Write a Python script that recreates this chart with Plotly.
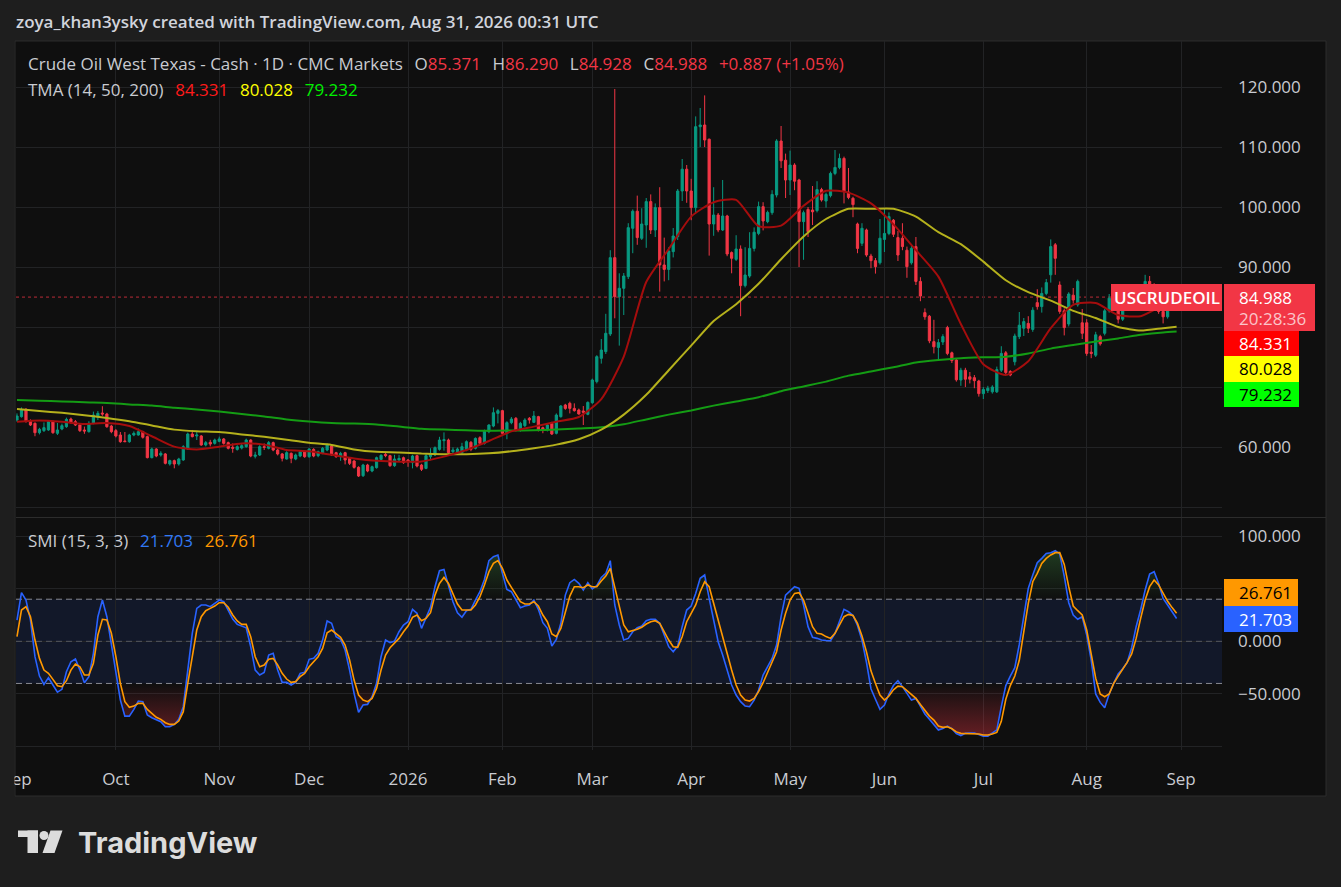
import numpy as np
import pandas as pd
import plotly.graph_objects as go

# daily bars shown, Sep 2025 - Aug 2026 (no bar on Christmas / New Year)
no_bar_days = ['2025-12-25', '2026-01-01']
days = pd.bdate_range('2025-09-01', '2026-08-31')
days = days[~days.isin(pd.to_datetime(no_bar_days))]

opens = [64.50, 65.06, 66.28, 64.39, 63.95, 62.39, 62.73, 62.84, 64.22, 62.28,
         63.00, 63.39, 64.67, 64.22, 63.67, 62.84, 62.56, 63.95, 64.95, 65.67,
         65.50, 63.50, 62.73, 62.00, 61.00, 60.89, 62.00, 62.00, 62.56, 61.73,
         58.23, 59.67, 58.67, 58.84, 57.17, 57.73, 57.17, 57.84, 59.67, 62.17,
         61.84, 61.84, 60.34, 60.78, 60.61, 60.95, 61.34, 60.73, 59.95, 59.60,
         59.84, 60.06, 61.17, 58.45, 58.67, 60.06, 59.78, 60.73, 59.50, 58.84,
         58.00, 58.95, 58.00, 58.50, 59.23, 58.39, 59.60, 58.56, 58.94, 59.50,
         60.17, 59.06, 58.39, 59.06, 58.11, 57.67, 56.61, 55.22, 57.00, 56.00,
         56.56, 57.94, 58.78, 58.56, 56.89, 57.83, 58.22, 57.83, 57.39, 58.56,
         57.00, 56.44, 58.39, 58.67, 59.61, 61.06, 61.17, 59.22, 59.06, 59.06,
         59.50, 60.78, 59.78, 61.56, 60.61, 62.56, 63.50, 65.61, 66.06, 62.28,
         64.06, 64.78, 62.94, 63.56, 64.78, 64.11, 65.06, 63.22, 62.83, 63.94,
         62.28, 65.06, 67.00, 67.28, 66.44, 66.17, 66.00, 65.45, 67.39, 70.90,
         74.78, 75.90, 78.83, 91.56, 85.06, 86.45, 88.40, 96.45, 99.30, 94.78,
         97.00, 100.90, 96.17, 99.90, 90.34, 89.60, 92.56, 95.06, 102.67, 106.30,
         102.67, 99.90, 113.39, 113.67, 111.30, 97.17, 98.67, 96.17, 98.50, 92.40,
         91.28, 93.00, 86.90, 88.50, 93.10, 95.60, 100.06, 97.56, 99.06, 102.00,
         111.00, 107.80, 104.50, 107.00, 104.50, 97.56, 99.60, 99.50, 99.40, 102.90,
         101.00, 101.90, 105.60, 106.60, 108.10, 102.50, 101.45, 97.17, 93.95, 96.17,
         91.83, 91.06, 90.70, 94.60, 95.60, 97.80, 94.90, 94.80, 92.80, 90.70,
         93.40, 87.60, 82.40, 81.80, 77.56, 76.60, 77.50, 79.90, 75.70, 74.50,
         71.17, 72.80, 71.70, 71.56, 71.00, 68.90, 69.40, 69.20, 69.20, 72.80,
         75.70, 72.60, 74.20, 78.40, 79.80, 80.60, 79.60, 84.06, 83.40, 85.60,
         88.70, 93.70, 87.00, 82.70, 80.50, 85.30, 83.70, 80.70, 80.70, 75.80,
         75.30, 78.40, 78.95, 82.70, 84.80, 83.60, 81.30, 83.20, 84.60, 85.40,
         84.50, 86.20, 87.60, 86.60, 85.00, 82.60, 81.70, 83.10, 85.371]
highs = [65.60, 66.60, 66.50, 64.60, 64.10, 63.20, 64.10, 64.50, 64.40, 64.00,
         63.90, 64.90, 64.90, 64.50, 63.80, 63.40, 64.30, 65.90, 66.00, 66.80,
         65.70, 63.70, 63.00, 62.50, 62.50, 62.20, 62.60, 63.10, 62.70, 61.90,
         59.90, 59.80, 59.30, 59.00, 57.90, 57.90, 58.20, 60.30, 62.40, 62.84,
         62.56, 62.00, 61.00, 61.20, 61.40, 61.73, 61.50, 60.90, 60.60, 60.30,
         60.50, 61.40, 61.30, 59.20, 60.30, 60.60, 61.00, 60.90, 59.70, 59.00,
         59.30, 59.10, 58.90, 59.40, 59.40, 59.80, 59.80, 59.40, 60.00, 60.60,
         60.50, 59.20, 59.20, 59.20, 58.30, 57.80, 56.80, 57.20, 57.20, 56.90,
         58.40, 58.80, 59.00, 58.70, 58.70, 58.70, 58.40, 58.00, 58.70, 58.70,
         57.20, 58.80, 59.80, 60.10, 61.70, 62.44, 61.40, 59.94, 59.90, 60.70,
         61.10, 61.00, 61.60, 61.80, 62.90, 63.80, 66.60, 66.33, 66.20, 64.30,
         65.00, 65.00, 64.20, 64.80, 65.00, 66.00, 65.20, 63.40, 63.90, 64.20,
         65.60, 67.00, 67.20, 67.56, 67.28, 66.40, 66.83, 67.60, 71.40, 75.30,
         78.00, 82.20, 92.80, 119.67, 88.95, 89.00, 97.30, 99.60, 101.90, 99.80,
         101.50, 102.10, 100.60, 103.30, 94.90, 93.30, 96.50, 103.00, 108.00, 107.00,
         104.70, 115.10, 116.50, 118.60, 111.40, 103.30, 99.00, 104.50, 98.70, 92.60,
         95.30, 93.60, 93.30, 95.80, 96.60, 100.90, 100.80, 99.40, 102.80, 111.30,
         113.50, 108.90, 109.40, 107.30, 104.70, 99.40, 100.00, 103.50, 104.30, 103.20,
         102.40, 105.90, 109.50, 108.90, 108.40, 106.50, 101.70, 97.40, 97.30, 96.40,
         92.20, 91.50, 98.00, 99.70, 99.10, 98.00, 96.00, 97.30, 93.40, 93.50,
         95.00, 88.30, 83.10, 82.00, 81.20, 78.00, 78.80, 80.20, 75.90, 74.80,
         73.20, 73.20, 72.50, 72.00, 71.20, 70.00, 70.20, 70.30, 73.40, 76.80,
         76.00, 72.80, 78.90, 82.50, 81.50, 81.80, 83.30, 86.30, 86.60, 88.00,
         94.60, 94.00, 87.60, 83.10, 85.80, 86.50, 87.90, 83.00, 81.30, 77.00,
         79.20, 78.70, 83.00, 85.50, 85.60, 84.00, 83.60, 85.20, 86.00, 86.20,
         86.80, 88.70, 88.50, 87.30, 85.30, 83.00, 83.60, 84.60, 86.290]
lows = [64.20, 64.90, 64.10, 63.50, 61.80, 62.10, 62.50, 62.70, 62.20, 62.00,
        62.80, 63.20, 63.90, 63.50, 62.50, 62.20, 62.40, 63.80, 64.50, 65.20,
        63.20, 62.30, 61.60, 60.70, 60.80, 60.70, 61.80, 61.90, 61.40, 58.10,
        58.10, 58.30, 58.40, 57.10, 56.90, 56.45, 56.90, 57.70, 59.50, 61.60,
        61.17, 60.20, 60.10, 60.10, 60.40, 60.80, 60.40, 59.60, 59.05, 59.40,
        59.60, 59.90, 58.30, 58.10, 58.50, 59.50, 59.60, 59.30, 58.60, 57.60,
        57.90, 57.30, 57.80, 58.30, 58.20, 58.20, 58.30, 58.30, 58.80, 59.30,
        58.50, 58.20, 57.70, 57.10, 57.00, 56.40, 55.00, 55.00, 55.80, 55.80,
        56.40, 57.80, 58.30, 56.70, 56.70, 57.55, 57.20, 56.70, 56.44, 56.60,
        56.00, 56.30, 57.80, 58.50, 59.40, 59.40, 58.90, 58.94, 58.90, 58.90,
        59.30, 59.30, 59.60, 60.40, 60.40, 62.30, 63.30, 63.94, 62.10, 61.30,
        63.80, 62.60, 62.56, 63.30, 63.90, 64.00, 62.60, 62.30, 62.60, 62.00,
        62.10, 64.90, 66.20, 65.60, 65.90, 65.40, 63.67, 65.30, 67.20, 70.60,
        73.90, 75.50, 78.50, 81.45, 76.90, 82.00, 88.00, 92.30, 93.70, 94.50,
        93.20, 95.50, 95.00, 85.90, 87.60, 87.80, 91.60, 94.50, 101.00, 100.70,
        97.80, 99.00, 110.00, 110.00, 91.90, 95.20, 95.80, 96.00, 91.80, 88.95,
        91.00, 81.80, 86.60, 88.20, 92.60, 95.30, 96.10, 97.30, 98.70, 101.60,
        106.50, 101.50, 102.00, 102.80, 90.00, 91.20, 95.00, 97.00, 99.10, 100.90,
        99.90, 101.60, 105.30, 106.30, 100.60, 101.30, 98.30, 92.30, 93.50, 91.70,
        89.80, 88.90, 90.40, 92.50, 95.30, 95.00, 91.00, 92.80, 88.20, 90.40,
        87.00, 84.30, 81.20, 77.30, 75.60, 74.60, 77.00, 75.30, 74.00, 70.90,
        70.20, 70.00, 70.60, 69.80, 68.40, 68.00, 69.00, 68.90, 69.00, 72.50,
        72.00, 71.80, 73.60, 78.00, 78.50, 79.00, 79.20, 82.90, 82.40, 85.30,
        87.40, 88.70, 82.20, 78.60, 80.10, 83.90, 83.40, 78.00, 75.20, 74.80,
        75.00, 76.90, 78.60, 82.40, 83.00, 80.60, 81.00, 82.90, 84.00, 84.00,
        84.20, 85.80, 86.00, 84.50, 82.20, 80.60, 81.40, 82.80, 84.928]
closes = [65.17, 66.17, 64.22, 63.67, 62.39, 62.95, 63.23, 64.22, 62.39, 62.84,
          63.56, 64.61, 64.06, 63.67, 62.73, 62.67, 63.95, 65.33, 65.61, 65.50,
          63.39, 62.56, 61.84, 60.89, 60.90, 62.00, 62.28, 62.56, 61.62, 58.23,
          59.67, 58.50, 58.95, 57.28, 57.73, 57.17, 58.00, 60.06, 62.17, 61.73,
          62.00, 60.34, 60.73, 60.50, 61.17, 61.34, 60.61, 59.78, 59.78, 60.06,
          60.23, 61.17, 58.50, 58.67, 60.06, 59.95, 60.73, 59.50, 58.84, 58.12,
          59.06, 58.12, 58.67, 59.22, 58.39, 59.67, 58.50, 59.22, 59.78, 60.33,
          58.67, 58.39, 58.94, 57.83, 57.28, 56.61, 55.17, 57.00, 56.00, 56.72,
          58.22, 58.61, 58.56, 56.89, 58.00, 58.11, 57.39, 57.56, 58.50, 56.83,
          56.28, 58.56, 58.83, 59.89, 61.17, 61.22, 59.06, 59.50, 59.67, 60.06,
          60.89, 59.61, 61.44, 60.61, 62.72, 63.67, 65.72, 66.06, 62.28, 64.06,
          64.67, 62.83, 63.94, 64.50, 64.50, 65.17, 62.83, 62.83, 63.67, 62.17,
          65.33, 66.83, 66.44, 66.44, 66.06, 65.50, 65.80, 67.44, 71.17, 75.06,
          76.17, 78.95, 91.56, 85.06, 86.45, 88.50, 96.56, 99.30, 94.90, 97.17,
          100.90, 96.17, 99.90, 90.34, 89.60, 92.67, 95.17, 102.67, 106.30, 102.67,
          99.90, 113.39, 113.67, 111.17, 97.17, 98.67, 96.17, 98.50, 92.17, 91.45,
          93.00, 86.90, 88.67, 93.10, 95.80, 100.06, 97.67, 99.10, 102.10, 111.00,
          107.70, 104.50, 107.00, 104.30, 97.56, 99.06, 95.90, 99.20, 102.90, 101.17,
          102.10, 105.60, 106.60, 108.10, 102.67, 101.60, 100.40, 93.10, 96.45, 92.00,
          91.06, 90.06, 94.80, 95.60, 98.40, 95.45, 92.00, 93.40, 90.06, 93.10,
          87.60, 85.17, 81.70, 77.70, 76.70, 77.40, 78.40, 75.60, 74.40, 71.20,
          72.80, 71.30, 71.30, 71.06, 68.90, 69.60, 69.80, 70.00, 72.90, 75.60,
          72.40, 72.00, 78.50, 80.30, 80.90, 79.80, 82.80, 83.40, 85.60, 87.40,
          93.40, 91.45, 82.60, 79.90, 85.50, 84.50, 87.60, 78.95, 75.60, 75.60,
          78.70, 77.20, 82.70, 84.80, 83.60, 81.30, 83.20, 84.60, 85.40, 84.50,
          86.20, 87.60, 86.60, 85.00, 82.60, 81.70, 83.10, 84.101, 84.988]

tma_fast = [64.2, 64.4, 64.2, 63.85, 64.0, 63.5, 61.8, 60.06, 59.6, 60.06,
            60.6, 60.4, 59.5, 59.3, 58.7, 58.1, 57.7, 57.56, 57.6, 58.4,
            59.5, 61.0, 62.6, 63.4, 64.2, 65.0, 68.0, 75.06, 87.5, 93.0,
            98.4, 100.8, 101.2, 96.8, 96.9, 100.2, 102.7, 102.4, 100.6, 97.1,
            92.8, 88.4, 80.5, 73.8, 72.0, 74.3, 79.8, 83.7, 84.0, 82.0,
            81.8, 83.6, 84.331]
tma_mid = [66.33, 66.0, 65.7, 65.3, 64.85, 64.3, 63.6, 62.9, 62.63, 62.5,
           62.1, 61.7, 61.2, 60.7, 60.35, 59.6, 59.2, 59.1, 58.9, 58.8,
           58.8, 58.95, 59.3, 59.8, 60.4, 61.3, 62.9, 65.4, 68.7, 72.8,
           76.9, 81.0, 83.8, 87.2, 91.3, 95.1, 98.0, 99.7, 99.7, 99.7,
           98.4, 95.8, 93.8, 90.9, 87.8, 85.8, 84.4, 82.7, 81.5, 80.0,
           79.4, 79.8, 80.028]
tma_slow = [67.83, 67.7, 67.6, 67.45, 67.35, 67.1, 66.9, 66.55, 66.25, 65.9,
            65.5, 65.1, 64.6, 64.25, 64.0, 63.9, 63.75, 63.4, 63.05, 62.9,
            62.8, 62.7, 62.75, 62.8, 62.9, 63.1, 63.3, 63.8, 64.6, 65.4,
            66.1, 66.9, 67.6, 68.3, 69.3, 70.1, 70.9, 71.9, 72.6, 73.3,
            74.1, 74.5, 74.8, 74.95, 75.06, 75.6, 76.4, 77.0, 77.6, 78.1,
            78.7, 79.1, 79.232]

# SMI (15, 3, 3)
smi = [20.2, 46.2, 39.2, 20.2, -14.6, -33.0, -40.9, -34.5, -41.5, -48.2,
       -45.6, -28.9, -19.4, -16.8, -27.3, -39.3, -33.6, -11.4, 23.4, 39.2,
       23.4, -3.5, -30.4, -55.8, -71.0, -71.0, -64.6, -56.7, -57.3, -70.0,
       -72.5, -74.8, -76.3, -81.1, -81.1, -78.9, -74.1, -62.1, -27.3, 7.6,
       31.3, 34.5, 34.5, 32.9, 36.0, 39.2, 37.6, 29.7, 21.2, 16.1,
       14.5, 12.9, -5.1, -27.3, -32.0, -29.5, -13.0, -11.4, -27.3, -39.0,
       -39.0, -41.5, -39.0, -30.4, -29.5, -17.1, -16.2, -11.4, 1.2, 19.3,
       17.1, 4.4, 1.9, -8.3, -27.3, -49.4, -67.5, -60.5, -59.9, -52.6,
       -39.9, -14.6, 1.2, -1.3, 0.3, 9.1, 15.5, 18.6, 30.4, 26.6,
       12.3, 21.8, 32.3, 51.9, 67.1, 68.3, 53.5, 37.6, 27.2, 22.8,
       29.1, 30.4, 39.2, 47.1, 58.8, 76.6, 80.4, 82.0, 64.5, 49.3,
       47.1, 39.2, 31.9, 33.5, 34.5, 39.2, 30.4, 17.7, 12.3, -4.5,
       1.9, 17.1, 43.9, 55.7, 58.8, 55.0, 48.7, 55.7, 49.7, 52.8,
       60.7, 64.5, 76.6, 34.5, 15.5, 1.2, 2.8, 9.1, 12.9, 14.5,
       19.6, 20.9, 20.9, 17.1, 6.0, -5.1, -9.9, -4.5, 13.9, 29.7,
       33.5, 45.5, 59.8, 63.0, 40.8, 20.2, -0.4, -13.0, -27.3, -41.5,
       -51.0, -57.3, -61.5, -62.1, -55.8, -46.3, -32.0, -24.1, -16.2, -3.5,
       23.4, 43.9, 48.1, 51.9, 50.3, 34.5, 13.9, 3.8, 2.8, 1.2,
       0.8, 0.6, 7.6, 19.0, 30.4, 28.1, 24.5, 15.0, 1.0, -20.0,
       -45.0, -55.0, -64.6, -60.5, -50.0, -42.0, -37.4, -43.0, -50.0, -55.8,
       -54.2, -62.0, -69.0, -74.0, -79.5, -84.3, -82.7, -80.5, -83.0, -87.5,
       -89.5, -87.4, -87.0, -87.0, -88.5, -90.0, -90.0, -87.4, -84.0, -62.0,
       -42.0, -33.0, -25.0, -3.0, 22.0, 50.3, 63.0, 74.7, 78.8, 83.5,
       84.2, 86.1, 83.0, 62.0, 36.7, 25.0, 20.9, 23.4, 6.0, -17.8,
       -50.0, -58.0, -63.0, -50.0, -40.0, -31.0, -26.0, -20.0, -6.0, 13.9,
       30.0, 48.7, 63.9, 66.1, 55.0, 40.8, 34.5, 28.1, 21.703]
smi_signal = [4.4, 29.7, 32.9, 23.4, 1.2, -16.2, -27.3, -30.4, -36.1, -42.2,
              -43.1, -37.4, -27.3, -21.6, -24.1, -32.0, -32.0, -20.9, 6.0, 20.9,
              20.2, 7.6, -14.6, -39.9, -57.3, -62.7, -61.5, -58.9, -58.9, -64.6,
              -68.4, -72.2, -74.1, -77.3, -78.9, -78.9, -75.7, -66.8, -39.9, -13.0,
              10.7, 23.4, 29.1, 31.3, 33.5, 36.7, 36.7, 32.3, 25.0, 19.3,
              16.1, 16.1, 4.4, -14.6, -24.1, -22.5, -17.1, -16.2, -22.5, -30.4,
              -35.8, -39.0, -38.3, -33.6, -30.4, -24.1, -19.4, -14.6, -6.7, 8.2,
              10.7, 6.9, 3.8, -3.5, -17.8, -36.8, -51.0, -55.8, -57.3, -54.2,
              -44.7, -27.3, -13.0, -6.1, -1.9, 2.8, 9.1, 14.5, 22.8, 25.0,
              19.6, 21.8, 27.2, 43.9, 55.0, 60.7, 55.0, 44.9, 35.4, 29.7,
              29.7, 29.7, 34.5, 42.4, 53.5, 66.1, 74.0, 76.6, 69.3, 58.2,
              51.2, 43.9, 37.6, 35.4, 35.4, 37.6, 33.5, 25.0, 18.6, 6.9,
              4.4, 12.3, 28.1, 43.0, 51.9, 51.9, 50.9, 53.5, 51.9, 51.9,
              57.3, 62.0, 69.3, 50.3, 31.3, 15.5, 9.1, 10.1, 11.4, 13.3,
              16.4, 18.6, 19.6, 17.1, 9.1, 1.2, -5.1, -5.7, 4.4, 18.6,
              26.6, 34.5, 47.1, 56.6, 51.9, 36.0, 18.6, 2.8, -11.4, -27.3,
              -41.5, -51.0, -55.8, -56.7, -54.2, -47.8, -39.3, -29.8, -20.9, -9.9,
              10.7, 26.6, 39.2, 45.5, 46.2, 39.2, 26.6, 13.9, 7.6, 6.9,
              4.5, 2.8, 7.6, 16.0, 23.4, 25.6, 24.5, 17.0, 5.0, -10.0,
              -28.0, -40.0, -51.0, -55.8, -52.0, -46.0, -42.5, -43.1, -47.0, -51.0,
              -54.2, -60.0, -65.0, -71.0, -74.8, -80.5, -81.7, -81.1, -83.0, -86.0,
              -87.4, -87.4, -87.4, -87.4, -88.0, -89.0, -89.0, -88.1, -86.5, -76.0,
              -55.0, -42.0, -33.0, -18.0, 8.0, 36.0, 56.6, 64.5, 74.0, 78.8,
              82.0, 84.2, 84.2, 73.0, 51.9, 33.5, 29.1, 25.0, 10.7, -11.4,
              -35.0, -50.0, -52.6, -50.0, -40.0, -33.0, -27.0, -20.0, -12.0, 2.8,
              21.8, 39.2, 51.9, 58.2, 53.5, 46.0, 38.0, 32.0, 26.761]

month_starts = ['2025-09-01', '2025-10-01', '2025-11-03', '2025-12-01', '2026-01-02',
                '2026-02-02', '2026-03-02', '2026-04-01', '2026-05-01', '2026-06-01',
                '2026-07-01', '2026-08-03', '2026-09-01']
month_labels = ['Sep', 'Oct', 'Nov', 'Dec', '2026', 'Feb', 'Mar', 'Apr', 'May', 'Jun',
                'Jul', 'Aug', 'Sep']

n = len(days)
assert len(opens) == len(highs) == len(lows) == len(closes) == n
assert len(smi) == len(smi_signal) == n

# bars are spaced evenly like on TradingView (one slot per trading day)
bar = np.arange(n)
ma_x = list(bar[::5]) + [bar[-1]]
assert len(tma_fast) == len(tma_mid) == len(tma_slow) == len(ma_x)
tick_pos = np.searchsorted(days, pd.to_datetime(month_starts))
x_range = [-0.22, 268.1]

# page geometry (pixels)
W, H = 1341, 887
ML, MR, MT, MB = 16, 119, 41, 137
PW, PH = W - ML - MR, H - MT - MB


def px(x):
    return (x - ML) / PW


def py(y):
    return (H - MB - y) / PH


FONT = 'Open Sans'
GRID = '#222325'
TXT = '#c9cbd1'
RED = '#f23645'
UP = '#089981'
BG = '#1e1e1e'

fig = go.Figure()

fig.add_trace(go.Candlestick(
    x=bar, open=opens, high=highs, low=lows, close=closes,
    increasing=dict(line=dict(color=UP, width=1), fillcolor=UP),
    decreasing=dict(line=dict(color=RED, width=1), fillcolor=RED),
    whiskerwidth=0, hoverinfo='skip', xaxis='x', yaxis='y'))

for vals, colr in [(tma_slow, '#149c14'), (tma_mid, '#b5b11c'), (tma_fast, '#a50d0d')]:
    fig.add_trace(go.Scatter(x=ma_x, y=vals, mode='lines', hoverinfo='skip',
                             line=dict(color=colr, width=2, shape='spline', smoothing=0.6),
                             xaxis='x', yaxis='y'))

# SMI: dashed levels, fills outside the +/-40 band, then the two lines
smi_arr = np.array(smi)
LVL = 'rgba(165,168,176,0.8)'
fig.add_trace(go.Scatter(x=x_range, y=[0, 0], mode='lines', hoverinfo='skip',
                         line=dict(color='rgba(120,123,134,0.6)', width=1, dash='6px,4px'),
                         xaxis='x2', yaxis='y2'))
fig.add_trace(go.Scatter(x=x_range, y=[40, 40], mode='lines', hoverinfo='skip',
                         line=dict(color=LVL, width=1, dash='6px,4px'), xaxis='x2', yaxis='y2'))
fig.add_trace(go.Scatter(x=bar, y=np.maximum(smi_arr, 40), mode='lines', line=dict(width=0),
                         fill='tonexty', hoverinfo='skip', xaxis='x2', yaxis='y2',
                         fillgradient=dict(type='vertical', start=40, stop=90,
                                           colorscale=[[0, 'rgba(76,175,80,0)'],
                                                       [1, 'rgba(76,175,80,0.3)']])))
fig.add_trace(go.Scatter(x=x_range, y=[-40, -40], mode='lines', hoverinfo='skip',
                         line=dict(color=LVL, width=1, dash='6px,4px'), xaxis='x2', yaxis='y2'))
fig.add_trace(go.Scatter(x=bar, y=np.minimum(smi_arr, -40), mode='lines', line=dict(width=0),
                         fill='tonexty', hoverinfo='skip', xaxis='x2', yaxis='y2',
                         fillgradient=dict(type='vertical', start=-90, stop=-40,
                                           colorscale=[[0, 'rgba(242,54,69,0.38)'],
                                                       [1, 'rgba(242,54,69,0)']])))
fig.add_trace(go.Scatter(x=bar, y=smi, mode='lines', line=dict(color='#2962ff', width=1.6),
                         hoverinfo='skip', xaxis='x2', yaxis='y2'))
fig.add_trace(go.Scatter(x=bar, y=smi_signal, mode='lines', line=dict(color='#ff9800', width=1.6),
                         hoverinfo='skip', xaxis='x2', yaxis='y2'))

AX = dict(family=FONT, size=17, color=TXT)

fig.update_layout(
    width=W, height=H, margin=dict(l=ML, r=MR, t=MT, b=MB, autoexpand=False),
    paper_bgcolor=BG, plot_bgcolor='rgba(0,0,0,0)', showlegend=False,
    font=dict(family=FONT, size=17, color=TXT),
    xaxis=dict(domain=[0, 1], anchor='y', range=x_range, rangeslider=dict(visible=False),
               tickvals=tick_pos, showticklabels=False, automargin=False,
               showgrid=True, gridcolor=GRID, zeroline=False),
    # 70 and 80 sit behind the price labels on the reference, so they stay blank
    yaxis=dict(domain=[0.3286, 1], anchor='x', side='right', range=[48.333, 127.667],
               tickvals=[50, 60, 70, 80, 90, 100, 110, 120],
               ticktext=['', '60.000', '', '', '90.000', '100.000', '110.000', '120.000'],
               gridcolor=GRID, zeroline=False, ticklabelstandoff=15, tickfont=AX,
               automargin=False),
    xaxis2=dict(domain=[0, 1], anchor='y2', matches='x', range=x_range,
                tickvals=tick_pos, ticktext=month_labels, showgrid=True, gridcolor=GRID,
                zeroline=False, ticklabelstandoff=17, tickfont=AX, automargin=False),
    yaxis2=dict(domain=[0, 0.3272], anchor='x2', side='right', range=[-103.2, 117.1],
                tickvals=[-100, -50, 0, 50, 100],
                ticktext=['', '\u221250.000', '0.000', '', '100.000'],
                gridcolor=GRID, zeroline=False, ticklabelstandoff=15, tickfont=AX,
                automargin=False),
)

shapes = [
    # chart box
    dict(type='rect', xref='paper', yref='paper', x0=px(15), x1=px(1326), y0=py(796), y1=py(41),
         fillcolor='#0f0f0f', line=dict(color='#2c2c2c', width=1), layer='below'),
    # SMI band
    dict(type='rect', xref='paper', yref='y2', x0=0, x1=1, y0=-40, y1=40,
         fillcolor='#121829', line=dict(width=0), layer='below'),
    # last price line
    dict(type='line', xref='paper', yref='y', x0=0, x1=px(1111), y0=closes[-1], y1=closes[-1],
         line=dict(color='rgba(242,54,69,0.75)', width=1, dash='dot'), layer='below'),
    # pane separator
    dict(type='line', xref='paper', yref='paper', x0=0, x1=px(1326), y0=py(517.5), y1=py(517.5),
         line=dict(color='#2c2c2c', width=1), layer='above'),
    # page margin left of the chart box (crops the first "Sep" like the reference)
    dict(type='rect', xref='paper', yref='paper', x0=px(0), x1=px(14.5), y0=py(800), y1=py(41),
         fillcolor=BG, line=dict(width=0), layer='above'),
]

# price-scale labels
boxes = [
    (1111, 1222, 284, 311, RED),
    (1224, 1315, 284, 331, RED),
    (1224, 1299, 331, 356, '#ff0000'),
    (1224, 1299, 356, 382, '#ffff00'),
    (1224, 1299, 382, 407, '#00ff00'),
    (1224, 1298, 579, 606, '#ff9800'),
    (1224, 1298, 606, 632, '#2962ff'),
]
for x0, x1, y0, y1, c in boxes:
    shapes.append(dict(type='rect', xref='paper', yref='paper', x0=px(x0), x1=px(x1),
                       y0=py(y1), y1=py(y0), fillcolor=c, line=dict(width=0), layer='above'))

# TradingView logo mark
LOGO = '#dcdcdc'
shapes += [
    dict(type='rect', xref='paper', yref='paper', x0=px(18), x1=px(38), y0=py(837), y1=py(830.5),
         fillcolor=LOGO, line=dict(width=0), layer='above'),
    dict(type='rect', xref='paper', yref='paper', x0=px(27.5), x1=px(38), y0=py(853), y1=py(830.5),
         fillcolor=LOGO, line=dict(width=0), layer='above'),
    dict(type='circle', xref='paper', yref='paper', x0=px(39.5), x1=px(48.5), y0=py(840), y1=py(831),
         fillcolor=LOGO, line=dict(width=0), layer='above'),
    dict(type='path', xref='paper', yref='paper', layer='above', fillcolor=LOGO, line=dict(width=0),
         path=f'M {px(50.5)},{py(830.5)} L {px(62.5)},{py(830.5)} L {px(54.5)},{py(853)} '
              f'L {px(42.5)},{py(853)} Z'),
]
fig.update_layout(shapes=shapes)


def note(x, y, text, size=17, color=TXT, anchor='left', weight=400):
    return dict(x=px(x), y=py(y), xref='paper', yref='paper', text=text, showarrow=False,
                xanchor=anchor, yanchor='middle', align=anchor,
                font=dict(family=FONT, size=size, color=color, weight=weight))


def col(text, c):
    return f'<span style="color:{c}">{text}</span>'


sp = '\u00a0\u00a0\u2009'
chg = closes[-1] - closes[-2]
pct = chg / closes[-2] * 100
legend_main = ('Crude Oil West Texas - Cash · 1D · CMC Markets' + sp +
               'O' + col(f'{opens[-1]:.3f}', RED) + sp +
               'H' + col(f'{highs[-1]:.3f}', RED) + sp +
               'L' + col(f'{lows[-1]:.3f}', RED) + sp +
               'C' + col(f'{closes[-1]:.3f}', RED) + sp +
               col(f'{chg:+.3f} ({pct:+.2f}%)', RED))
legend_tma = ('TMA (14, 50, 200)' + sp + col(f'{tma_fast[-1]:.3f}', '#ff1a1a') + sp +
              col(f'{tma_mid[-1]:.3f}', '#ffff00') + sp + col(f'{tma_slow[-1]:.3f}', '#00f000'))
legend_smi = ('SMI (15, 3, 3)' + sp + col(f'{smi[-1]:.3f}', '#3179f5') + sp +
              col(f'{smi_signal[-1]:.3f}', '#ff9800'))

annotations = [
    note(14, 21, 'zoya_khan3ysky created with TradingView.com, Aug 31, 2026 00:31 UTC',
         size=17, color='#d1d4dc', weight=600),
    note(26, 64, legend_main),
    note(26, 89, legend_tma),
    note(26, 540, legend_smi),
    note(1166.5, 297.5, 'USCRUDEOIL', color='#ffffff', anchor='center', weight=600),
    note(1237, 297, f'{closes[-1]:.3f}', color='#ffffff'),
    note(1237, 319, '20:28:36', color='rgba(255,255,255,0.72)'),
    note(1237, 343.5, f'{tma_fast[-1]:.3f}', color='#ffffff'),
    note(1237, 369, f'{tma_mid[-1]:.3f}', color='#000000'),
    note(1237, 394.5, f'{tma_slow[-1]:.3f}', color='#000000'),
    note(1237, 592.5, f'{smi_signal[-1]:.3f}', color='#000000'),
    note(1237, 619, f'{smi[-1]:.3f}', color='#ffffff'),
    dict(x=px(76), y=py(842), xref='paper', yref='paper', text='TradingView', showarrow=False,
         xanchor='left', yanchor='middle', align='left',
         font=dict(family='Inter', size=29, color=LOGO, weight=700)),
]
fig.update_layout(annotations=annotations)

fig.write_html("out.html", config={'displayModeBar': False},
               post_script="document.body.style.margin='0';document.body.style.overflow='hidden';")
